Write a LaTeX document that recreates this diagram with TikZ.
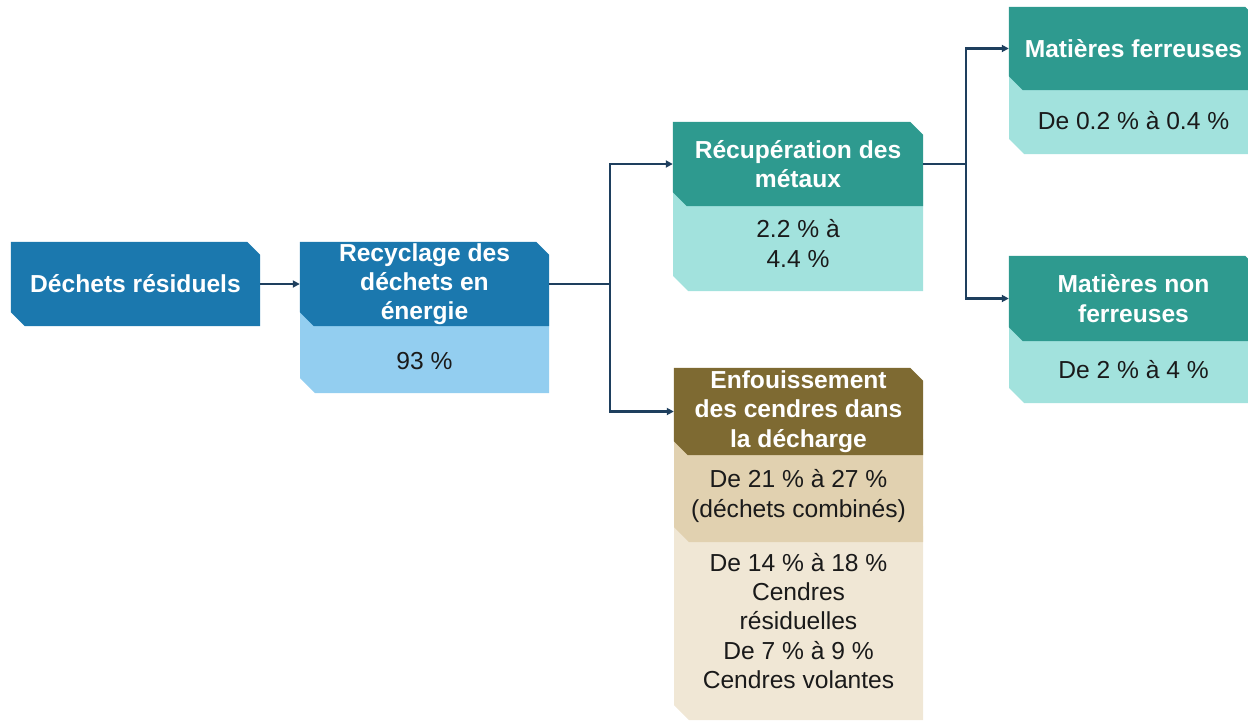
\documentclass[tikz,border=0pt]{standalone}
\usepackage{fontspec}
\setmainfont{Liberation Sans}
\usetikzlibrary{arrows.meta}
\pgfdeclarelayer{bg}
\pgfsetlayers{bg,main}
\definecolor{dkblue}{HTML}{1B78AE}
\definecolor{ltblue}{HTML}{93CEF0}
\definecolor{teal1}{HTML}{2E9A8F}
\definecolor{ltteal}{HTML}{A2E2DD}
\definecolor{brown1}{HTML}{7E6A32}
\definecolor{tan1}{HTML}{E1D1B0}
\definecolor{beige1}{HTML}{F0E7D5}
\definecolor{arrowc}{HTML}{1E3F5E}
\definecolor{txt}{HTML}{1A1A1A}
% header fill with top-right and bottom-left cut corners, from node anchors
\newcommand\hdrfill[2]{\begin{pgfonlayer}{bg}\fill[#2] (#1.north west) -- ([xshift=-13pt]#1.north east) -- ([yshift=-13pt]#1.north east) -- (#1.south east) -- ([xshift=14pt]#1.south west) -- ([yshift=14pt]#1.south west) -- cycle;\end{pgfonlayer}}
% body fill (x0,y0,x1,y1) extended up behind the box above, bottom-left cut
\newcommand\bodyfill[5]{\begin{pgfonlayer}{bg}\fill[#1] (#2,{#3-16}) -- (#4,{#3-16}) -- (#4,#5) -- ({#2+15},#5) -- (#2,{#5-15}) -- cycle;\end{pgfonlayer}}
\begin{document}
\begin{tikzpicture}[x=1pt,y=-1pt,
  hdr/.style={minimum width=249pt,minimum height=84pt,inner sep=0pt,align=center,text=white,font=\fontsize{24.6}{29.3}\selectfont\bfseries},
  bodytxt/.style={inner sep=0pt,align=center,text=txt,font=\fontsize{24.6}{29.3}\selectfont},
  ln/.style={draw=arrowc,line width=2.5pt},
  arr/.style={ln,-{Triangle[length=7pt,width=7pt]}}]
\useasboundingbox (0,0) rectangle (1248,721);
% body fills (drawn first, lowest first)
\bodyfill{ltblue}{300}{326}{549}{393}
\bodyfill{ltteal}{673}{206}{923}{291}
\bodyfill{ltteal}{1009}{90}{1258}{154}
\bodyfill{ltteal}{1009}{341}{1258}{403}
\bodyfill{beige1}{674}{542}{923}{720}
\bodyfill{tan1}{674}{455}{923}{542}
% header nodes
\node[hdr] (b1) at (135.5,284) {Déchets résiduels};
\node[hdr] (h2) at (424.5,284) {Recyclage des\\déchets en\\énergie};
\node[hdr,minimum width=250pt] (h3) at (798,164) {Récupération des\\métaux};
\node[hdr,minimum height=83pt] (h4) at (1133.5,48.5) {Matières ferreuses};
\node[hdr,minimum height=85pt] (h5) at (1133.5,298.5) {Matières non\\ferreuses};
\node[hdr,minimum height=87pt] (h6) at (798.5,411.5) {Enfouissement\\des cendres dans\\la décharge};
\hdrfill{b1}{dkblue}
\hdrfill{h2}{dkblue}
\hdrfill{h3}{teal1}
\hdrfill{h4}{teal1}
\hdrfill{h5}{teal1}
\hdrfill{h6}{brown1}
% body texts
\node[bodytxt] (t2) at (424.5,361) {93 \%};
\node[bodytxt] (t3) at (798,243.5) {2.2 \% à\\ 4.4 \%};
\node[bodytxt] (t4) at (1133.5,120.5) {De 0.2 \% à 0.4 \%};
\node[bodytxt] (t5) at (1133.5,369.5) {De 2 \% à 4 \%};
\node[bodytxt] (t6a) at (798.5,496) {De 21 \% à 27 \%\\(déchets combinés)};
\node[bodytxt] (t6b) at (798.5,621) {De 14 \% à 18 \%\\Cendres\\résiduelles\\De 7 \% à 9 \%\\Cendres volantes};
% connectors
\coordinate (j1) at (610,284);
\coordinate (j2) at (966,164);
\draw[arr] (b1.east) -- (h2.west);
\draw[ln] (h2.east) -- (j1);
\draw[arr] (j1) |- (h3.west);
\draw[arr] (j1) |- (h6.west);
\draw[ln] (h3.east) -- (j2);
\draw[arr] (j2) |- (h4.west);
\draw[arr] (j2) |- (h5.west);
\end{tikzpicture}
\end{document}
